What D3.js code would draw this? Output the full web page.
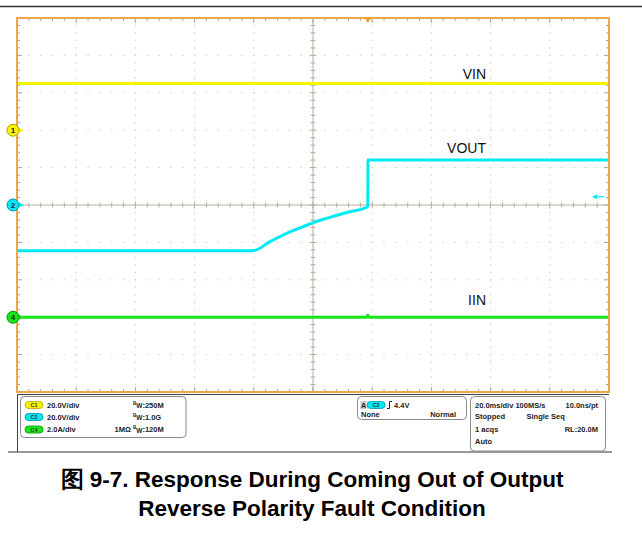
<!DOCTYPE html>
<html>
<head>
<meta charset="utf-8">
<script src="https://cdn.jsdelivr.net/npm/d3@7"></script>
<style>
  html, body { margin: 0; padding: 0; background: #ffffff; }
  svg { display: block; font-family: "Liberation Sans", Arial, sans-serif; }
</style>
</head>
<body>
<svg id="chart" width="642" height="533"></svg>
<script>
// ---- channel setup (scope vertical scale and ground offset in divisions) ----
const channelIds    = ["1", "2", "4"];
const channelBadges = ["C1", "C2", "C4"];
const channelNames  = ["VIN", "VOUT", "IIN"];
const channelScale  = [20, 20, 2];          // units per division
const channelUnits  = ["V/div", "V/div", "A/div"];
const channelOffset = [2, 0, -3];           // ground marker position, divisions
const channelColor  = ["#f5f500", "#00eaf5", "#19e619"];
const channelEdge   = ["#b9a000", "#0092a8", "#0a8f0a"];
const channelBW     = ["250M", "1.0G", "120M"];

// ---- acquired waveforms (time in ms across the 200 ms record) ----
const vinTime  = [0, 200];
const vinValue = [25, 25];

const voutTime  = [0, 79.8, 85.5, 91.1, 96.7, 100.1, 105.7, 111.4, 118.1, 118.5, 118.6, 200];
const voutValue = [-24.4, -24.4, -19.6, -15.2, -11.6, -9.4, -6.6, -4.0, -1.2, -0.6, 24.1, 24.1];

const iinTime  = [0, 118.2, 118.5, 118.9, 200];
const iinValue = [0, 0, 0.12, 0, 0];

// trigger settings
const triggerTime  = 118.5;     // ms
const triggerLevel = 4.4;       // V on C2

// ---- readout texts ----
const timebaseRows = [
  ["20.0ms/div 100MS/s", "10.0ns/pt"],
  ["Stopped", "Single Seq"],
  ["1 acqs", "RL:20.0M"],
  ["Auto", ""]
];
const captionLines = [
  "图 9-7. Response During Coming Out of Output",
  "Reverse Polarity Fault Condition"
];

const svg = d3.select("#chart");

// screen geometry
const plotL = 17, plotR = 609, plotT = 18, plotB = 392;
const nDivX = 10, nDivY = 10, nMinor = 5;

const x = d3.scaleLinear().domain([0, 200]).range([plotL, plotR]);
const yDiv = d3.scaleLinear().domain([-5, 5]).range([plotB, plotT]);
const yCh = i => v => yDiv(v / channelScale[i] + channelOffset[i]);

// top rule
svg.append("line").attr("x1", 0).attr("x2", 642).attr("y1", 6.5).attr("y2", 6.5)
  .attr("stroke", "#333").attr("stroke-width", 1.4);

const grid = svg.append("g");

// dotted graticule along division lines
const divX = d3.range(1, nDivX).map(k => plotL + k * (plotR - plotL) / nDivX);
const divY = d3.range(1, nDivY).map(k => plotT + k * (plotB - plotT) / nDivY);
const minorX = d3.range(1, nDivX * nMinor).map(k => plotL + k * (plotR - plotL) / (nDivX * nMinor));
const minorY = d3.range(1, nDivY * nMinor).map(k => plotT + k * (plotB - plotT) / (nDivY * nMinor));

divX.forEach((gx, k) => {
  if (k === 4) return;
  grid.selectAll(null).data(minorY).enter().append("rect")
    .attr("x", gx - 0.5).attr("y", d => d - 0.8).attr("width", 1).attr("height", 1.6)
    .attr("fill", "#cfcfcf");
});
divY.forEach((gy, k) => {
  if (k === 4) return;
  grid.selectAll(null).data(minorX).enter().append("rect")
    .attr("x", d => d - 0.8).attr("y", gy - 0.5).attr("width", 1.6).attr("height", 1)
    .attr("fill", "#cfcfcf");
});

// centre cross with ticks
const cx = (plotL + plotR) / 2, cy = (plotT + plotB) / 2;
const axisColor = "#b5ab9c";
grid.append("line").attr("x1", plotL).attr("x2", plotR).attr("y1", cy).attr("y2", cy)
  .attr("stroke", axisColor).attr("stroke-width", 1);
grid.append("line").attr("x1", cx).attr("x2", cx).attr("y1", plotT).attr("y2", plotB)
  .attr("stroke", axisColor).attr("stroke-width", 1);
minorX.forEach((mx, k) => {
  const len = (k + 1) % nMinor === 0 ? 3.5 : 2.5;
  grid.append("line").attr("x1", mx).attr("x2", mx).attr("y1", cy - len).attr("y2", cy + len)
    .attr("stroke", axisColor).attr("stroke-width", 1);
});
minorY.forEach((my, k) => {
  const len = (k + 1) % nMinor === 0 ? 3.5 : 2.5;
  grid.append("line").attr("x1", cx - len).attr("x2", cx + len).attr("y1", my).attr("y2", my)
    .attr("stroke", axisColor).attr("stroke-width", 1);
});

// edge ticks
const edgeColor = "#a9a29a";
minorX.forEach((mx, k) => {
  const len = (k + 1) % nMinor === 0 ? 5 : 3;
  grid.append("line").attr("x1", mx).attr("x2", mx).attr("y1", plotT).attr("y2", plotT + len)
    .attr("stroke", edgeColor).attr("stroke-width", 1);
  grid.append("line").attr("x1", mx).attr("x2", mx).attr("y1", plotB - len).attr("y2", plotB)
    .attr("stroke", edgeColor).attr("stroke-width", 1);
});
minorY.forEach((my, k) => {
  const len = (k + 1) % nMinor === 0 ? 5 : 3;
  grid.append("line").attr("x1", plotL).attr("x2", plotL + len).attr("y1", my).attr("y2", my)
    .attr("stroke", edgeColor).attr("stroke-width", 1);
  grid.append("line").attr("x1", plotR - len).attr("x2", plotR).attr("y1", my).attr("y2", my)
    .attr("stroke", edgeColor).attr("stroke-width", 1);
});

// traces
const traces = [
  [vinTime, vinValue],
  [voutTime, voutValue],
  [iinTime, iinValue]
];
traces.forEach(([t, v], i) => {
  const pts = t.map((tt, j) => [tt, v[j]]);
  const line = d3.line().x(d => x(d[0])).y(d => yCh(i)(d[1])).curve(d3.curveMonotoneX);
  svg.append("path").datum(pts).attr("d", line)
    .attr("fill", "none").attr("stroke", channelColor[i])
    .attr("stroke-width", 3).attr("stroke-linejoin", "round");
});

// trace labels
const labelOffset = [4, 7, 12];
const labelLevel = [vinValue[0], voutValue[voutValue.length - 1], iinValue[0]];
channelNames.forEach((name, i) => {
  svg.append("text").attr("x", 486).attr("y", yCh(i)(labelLevel[i]) - labelOffset[i])
    .attr("text-anchor", "end").attr("font-size", 14).attr("fill", "#111").text(name);
});

// frame
svg.append("rect").attr("x", plotL).attr("y", plotT).attr("width", plotR - plotL).attr("height", plotB - plotT)
  .attr("fill", "none").attr("stroke", "#eea64a").attr("stroke-width", 2);

// trigger position marker
const tx = x(triggerTime);
svg.append("path").attr("d", `M${tx - 4},${plotT - 1} L${tx + 4},${plotT - 1} L${tx},${plotT + 5} Z`)
  .attr("fill", "#f0a030");

// trigger level marker (C2)
const ty = yCh(1)(triggerLevel);
svg.append("line").attr("x1", 597).attr("x2", 604).attr("y1", ty).attr("y2", ty)
  .attr("stroke", channelColor[1]).attr("stroke-width", 1.2);
svg.append("path").attr("d", `M${592},${ty} L${597},${ty - 2.5} L${597},${ty + 2.5} Z`)
  .attr("fill", channelColor[1]);

// channel ground markers
channelIds.forEach((id, i) => {
  const gy = yCh(i)(0);
  svg.append("path").attr("d", `M${19},${gy - 2.5} L${24},${gy} L${19},${gy + 2.5} Z`)
    .attr("fill", channelColor[i]);
  svg.append("circle").attr("cx", 13).attr("cy", gy).attr("r", 6)
    .attr("fill", channelColor[i]).attr("stroke", channelEdge[i]).attr("stroke-width", 1);
  svg.append("text").attr("x", 13).attr("y", gy + 3).attr("text-anchor", "middle")
    .attr("font-size", 8).attr("font-weight", "bold").attr("fill", "#222").text(id);
});

// ---- readout panel ----
const panel = svg.append("g");
panel.append("line").attr("x1", 17).attr("x2", 609).attr("y1", 394.5).attr("y2", 394.5)
  .attr("stroke", "#444").attr("stroke-width", 1);
panel.append("line").attr("x1", 17.5).attr("x2", 17.5).attr("y1", 394).attr("y2", 452)
  .attr("stroke", "#444").attr("stroke-width", 1);
panel.append("line").attr("x1", 8).attr("x2", 612).attr("y1", 452).attr("y2", 452)
  .attr("stroke", "#333").attr("stroke-width", 1.2);

function badge(g, bx, by, label, fill, edge) {
  g.append("rect").attr("x", bx).attr("y", by - 3.5).attr("width", 18).attr("height", 7).attr("rx", 3.5)
    .attr("fill", fill).attr("stroke", edge).attr("stroke-width", 0.8);
  g.append("text").attr("x", bx + 9).attr("y", by + 2).attr("text-anchor", "middle")
    .attr("font-size", 5.5).attr("font-weight", "bold").attr("fill", "#333").text(label);
}
const small = { size: 7.5, weight: "bold", color: "#222" };

// vertical settings box
panel.append("rect").attr("x", 20.5).attr("y", 396.5).attr("width", 165.5).attr("height", 41).attr("rx", 4)
  .attr("fill", "#fff").attr("stroke", "#8a8a8a").attr("stroke-width", 1);
const rowY = [405, 417, 429.5];
channelBadges.forEach((b, i) => {
  badge(panel, 25, rowY[i], b, channelColor[i], channelEdge[i]);
  panel.append("text").attr("x", 47).attr("y", rowY[i] + 2.7)
    .attr("font-size", small.size).attr("font-weight", small.weight).attr("fill", small.color)
    .text(channelScale[i].toFixed(1) + channelUnits[i]);
  const bw = panel.append("text").attr("x", 133).attr("y", rowY[i] + 2.7)
    .attr("font-size", small.size).attr("font-weight", small.weight).attr("fill", small.color);
  bw.append("tspan").attr("font-size", 4.5).attr("dy", -3).text("B");
  bw.append("tspan").attr("font-size", 6.5).attr("dy", 3.5).text("W");
  bw.append("tspan").attr("dy", -0.5).text(":" + channelBW[i]);
});
panel.append("text").attr("x", 131).attr("y", rowY[2] + 2.7).attr("text-anchor", "end")
  .attr("font-size", small.size).attr("font-weight", small.weight).attr("fill", small.color).text("1MΩ");

// trigger box
panel.append("rect").attr("x", 357.5).attr("y", 396.5).attr("width", 109).attr("height", 23).attr("rx", 4)
  .attr("fill", "#fff").attr("stroke", "#8a8a8a").attr("stroke-width", 1);
panel.append("rect").attr("x", 360.5).attr("y", 401).attr("width", 6).attr("height", 8).attr("fill", "#c8c8c8");
panel.append("text").attr("x", 363.5).attr("y", 407.6).attr("text-anchor", "middle")
  .attr("font-size", 7).attr("font-weight", "bold").attr("fill", "#222").text("A");
badge(panel, 367, 405, channelBadges[1], channelColor[1], channelEdge[1]);
panel.append("path").attr("d", "M387,408.5 L389.5,408.5 L389.5,401.5 L392,401.5")
  .attr("fill", "none").attr("stroke", "#222").attr("stroke-width", 1);
panel.append("text").attr("x", 394).attr("y", 407.7)
  .attr("font-size", small.size).attr("font-weight", small.weight).attr("fill", small.color)
  .text(triggerLevel.toFixed(1) + "V");
panel.append("text").attr("x", 361).attr("y", 417.2)
  .attr("font-size", small.size).attr("font-weight", small.weight).attr("fill", small.color).text("None");
panel.append("text").attr("x", 456).attr("y", 417.2).attr("text-anchor", "end")
  .attr("font-size", small.size).attr("font-weight", small.weight).attr("fill", small.color).text("Normal");

// timebase box
panel.append("rect").attr("x", 470.5).attr("y", 396.5).attr("width", 135).attr("height", 54.5).attr("rx", 4)
  .attr("fill", "#fff").attr("stroke", "#8a8a8a").attr("stroke-width", 1);
const tbY = [407.7, 419.4, 432, 444.4];
const midCol = [null, 526.5, null, null];
timebaseRows.forEach((row, i) => {
  panel.append("text").attr("x", 475).attr("y", tbY[i])
    .attr("font-size", small.size).attr("font-weight", small.weight).attr("fill", small.color).text(row[0]);
  if (!row[1]) return;
  const t = panel.append("text").attr("y", tbY[i])
    .attr("font-size", small.size).attr("font-weight", small.weight).attr("fill", small.color).text(row[1]);
  if (midCol[i]) t.attr("x", midCol[i]);
  else t.attr("x", 598).attr("text-anchor", "end");
});

// caption
svg.append("text").attr("x", 312).attr("y", 487).attr("text-anchor", "middle")
  .attr("font-size", 22.5).attr("font-weight", "bold").attr("fill", "#000").text(captionLines[0]);
svg.append("text").attr("x", 312).attr("y", 515.5).attr("text-anchor", "middle")
  .attr("font-size", 22.5).attr("font-weight", "bold").attr("fill", "#000").text(captionLines[1]);
</script>
</body>
</html>
